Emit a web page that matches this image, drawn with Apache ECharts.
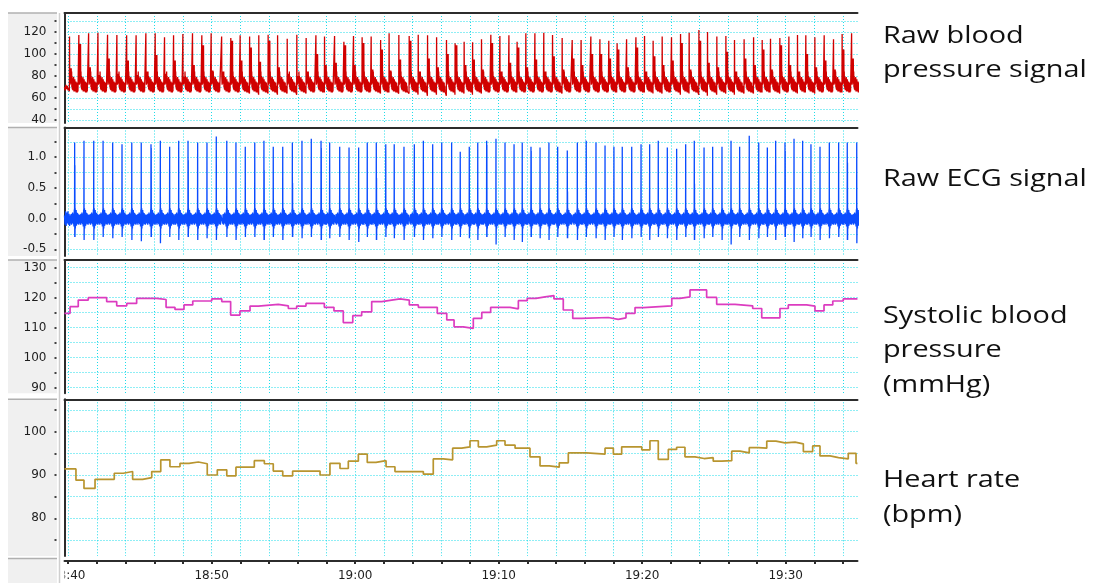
<!DOCTYPE html>
<html><head><meta charset="utf-8">
<script src="https://cdn.jsdelivr.net/npm/echarts@6/dist/echarts.min.js"></script>
<style>html,body{margin:0;padding:0;background:#fff}#c{width:1095px;height:583px}</style>
</head><body><div id="c"></div>
<script>
// ---------- DATA (minutes after 18:40) ----------
const beatMin = [0.45,1.10,1.78,2.43,3.10,3.75,4.43,5.09,5.77,6.42,7.07,7.70,8.35,9.02,9.67,10.32,11.05,11.69,12.34,13.00,13.64,14.29,14.95,15.62,16.29,16.94,17.62,
18.22,18.92,19.57,20.24,20.84,21.47,22.13,22.72,23.40,24.12,24.75,25.40,26.03,26.72,27.32,27.95,28.54,29.16,29.81,30.44,31.07,31.64,32.25,32.88,33.50,34.11,34.78,35.48,36.10,
36.78,37.41,38.03,38.61,39.27,39.92,40.52,41.12,41.75,42.40,43.03,43.63,44.31,44.91,45.56,46.19,46.79,47.46,48.12,48.72,49.30,49.95,50.58,51.18,51.76,52.39,53.04,53.69,54.29,54.95];
const ecgPeak = [1.24,1.27,1.27,1.27,1.24,1.21,1.24,1.24,1.21,1.27,1.17,1.27,1.27,1.24,1.24,1.34,1.27,1.24,1.17,1.24,1.27,1.17,1.17,1.24,1.27,1.30,1.27,
1.24,1.17,1.16,1.16,1.24,1.24,1.21,1.21,1.17,1.21,1.27,1.21,1.24,1.24,1.09,1.17,1.24,1.27,1.30,1.24,1.21,1.24,1.17,1.16,1.24,1.17,1.11,1.24,1.27,
1.24,1.19,1.17,1.17,1.17,1.21,1.21,1.27,1.16,1.14,1.21,1.27,1.16,1.17,1.17,1.27,1.17,1.35,1.24,1.16,1.27,1.24,1.30,1.27,1.21,1.17,1.24,1.24,1.24,1.24];
const ecgDip = [-0.30,-0.35,-0.35,-0.30,-0.32,-0.30,-0.35,-0.37,-0.30,-0.40,-0.30,-0.35,-0.30,-0.35,-0.32,-0.35,-0.30,-0.35,-0.30,-0.30,-0.35,-0.30,-0.35,-0.30,-0.32,-0.30,-0.35,
-0.32,-0.30,-0.35,-0.38,-0.30,-0.35,-0.30,-0.32,-0.35,-0.30,-0.35,-0.32,-0.30,-0.35,-0.30,-0.32,-0.35,-0.30,-0.42,-0.30,-0.35,-0.38,-0.30,-0.32,-0.35,-0.30,-0.32,-0.35,-0.30,
-0.32,-0.35,-0.30,-0.35,-0.32,-0.30,-0.35,-0.30,-0.32,-0.35,-0.30,-0.35,-0.32,-0.30,-0.35,-0.42,-0.30,-0.35,-0.32,-0.30,-0.35,-0.30,-0.38,-0.32,-0.30,-0.35,-0.32,-0.30,-0.35,-0.40];
// extra (secondary) ECG spikes: [beat index, height]
const ecgExtra = [[0,0.87],[8,1.15],[12,0.95],[20,0.79],[23,0.58],[26,1.15],[32,0.66],[44,1.2],[49,1.1],[53,0.44],[67,0.57],[77,1.1],[84,0.91]];
// ECG beat shape: [minutes from R peak, value | 'P' peak | 'D' dip | 'X' extra]
const ecgShape = [[-0.32,0.05],[-0.29,-0.08],[-0.26,0.07],[-0.23,-0.1],[-0.2,0.08],[-0.17,-0.07],[-0.14,0.1],[-0.11,-0.09],[-0.08,0.08],[-0.05,-0.13],[-0.025,0.15],[-0.008,0.02],
[0,'P'],[0.008,'D'],[0.016,'X'],[0.024,'D2'],[0.035,0.17],[0.05,-0.16],[0.065,0.13],[0.085,-0.12],[0.105,0.14],[0.125,-0.11],[0.145,0.1],[0.17,-0.08],[0.2,0.09],[0.23,-0.09],[0.26,0.07],[0.29,-0.1],[0.32,0.06]];
const ecgLead = [[-0.26,0.05],[-0.22,-0.1],[-0.18,0.12],[-0.14,-0.12],[-0.1,0.1],[-0.06,-0.08],[-0.02,0.12],[0.02,-0.1],[0.06,0.08],[0.1,-0.12]];

const bpLag = 0.37; // BP upstroke precedes the drawn R spike by this many minutes
const bpPeak = [115.8,117.3,118.8,119.4,117.6,117.3,117,117,118.8,118.8,115.2,117,118.2,118.8,117,118.8,115.8,114.5,117,115.8,117,117.6,117,113.9,117.6,114.5,117,115.8,
116.4,111.2,116.4,115.2,115.8,112.7,118.8,117.3,116.4,117.6,117,115.2,112.7,109.7,111.2,110.6,113.3,117.6,116.4,117,111.2,118.8,118.8,119.4,117.3,114.5,112.7,112.7,115.8,
113.3,112.1,109.7,113.3,115.2,116.4,112.1,115.8,115.2,118.2,119.4,121.8,120,115.8,116.4,112.7,113.3,115.2,112.7,113.9,114.5,115.8,117.3,117,115.2,117,113.3,118.2,118.8];
const bpSecond = [87,109,88,81,96,82,94,81,84,99,82,94,79,90,108,85,84,112,94,106,93,112,88,82,80,84,100,90,
92,108,90,110,86,104,85,95,112,84,96,88,100,108,90,95,86,110,84,92,106,88,95,84,98,86,96,90,100,
100,96,104,88,106,84,98,90,94,110,86,112,92,88,102,84,96,90,104,86,108,90,84,100,88,94,86,104,96];
const bpTrough = [66,67,66,65,66,67,65,66,66,65,66,65,66,67,65,66,65,66,65,
64,63,64,63,64,63,64,65,65,
65,66,65,66,65,64,65,64,64,
63,62,63,62,63,64,63,64,65,
65,66,65,66,65,66,65,64,65,65,
66,65,66,65,66,65,65,64,64,65,
63,64,63,62,63,64,63,64,64,65,
65,64,65,64,65,64,65,66,65,66];
// BP beat shape: [minutes from upstroke, value | 'T' trough | 'P' peak | 'S' secondary]
const bpShape = [[0,'T'],[0.012,'P'],[0.025,80],[0.045,72],[0.1,'S'],[0.115,74],[0.13,'S'],[0.145,73],[0.16,84],[0.175,70],[0.19,80],[0.205,68],[0.22,78],[0.24,67],[0.26,76],[0.28,69],
[0.3,79],[0.32,66],[0.34,75],[0.36,68],[0.38,77],[0.4,66],[0.42,73],[0.44,67],[0.46,75],[0.48,65],[0.5,72],[0.52,66],[0.54,74],[0.56,65],[0.58,71],[0.6,66]];
const bpLead = [[-0.26,70],[-0.21,67],[-0.16,72],[-0.11,68],[-0.06,71],[-0.01,67],[0.04,69]];

const sbpTime = [-0.26,0.13,0.70,1.40,2.68,3.38,4.08,4.77,6.17,6.82,7.44,8.07,8.68,10.00,10.70,11.32,11.97,12.67,13.25,14.64,15.34,15.92,16.57,17.85,18.52,19.17,19.83,20.45,21.15,21.85,22.54,23.12,23.77,24.40,25.72,26.38,26.89,27.53,28.23,28.82,29.44,30.79,31.37,31.99,32.60,33.23,33.85,34.50,35.16,35.78,37.64,38.33,38.87,39.50,40.08,42.06,42.63,43.33,44.49,45.19,46.47,47.70,48.33,49.60,50.18,51.46,52.04,52.67,53.28,54.01,55.0];
const sbpValue = [114.8,117,119.2,120,118.7,117.3,118.1,119.8,119.4,116.8,116.1,117.6,118.9,119.6,118.7,114.2,115.6,117.2,117.8,117.3,116.4,117.2,118.1,116.8,115.6,111.7,114,115.3,118.7,119.2,119.6,119.2,117.6,116.8,114.8,112.6,110.3,109.8,113.1,115.1,116.8,116.3,119,119.8,120.3,120.7,119.6,115.9,113.1,113.4,112.8,113.3,114.8,116.7,117.3,119.8,120.3,122.6,120.1,117.8,117.3,116.4,113.3,116.4,117.6,117.2,115.6,117.6,118.9,119.6,119.6];

const hrTime = [-0.26,0.54,1.10,1.87,3.21,3.84,4.49,5.19,5.82,6.45,7.09,7.79,8.42,9.07,9.69,10.39,11.05,11.69,12.97,13.67,14.29,14.95,15.64,17.55,18.24,18.94,19.52,20.22,20.84,21.45,22.15,22.77,24.75,25.44,26.14,26.79,27.42,28.00,28.58,29.16,29.86,30.44,31.14,32.18,32.88,33.53,34.22,34.85,36.13,37.41,37.99,38.57,39.97,40.54,41.12,41.82,42.40,42.98,43.68,44.31,44.95,45.54,46.24,46.82,47.46,48.09,48.68,49.32,49.95,50.65,51.23,51.88,52.39,53.09,53.68,54.36,54.90,55.0];
const hrValue = [91.4,88.8,86.9,89,90.4,90.8,89,89.4,90.8,93.5,91.9,92.7,93,92.6,90,91.2,89.8,91.8,93.3,92.6,90.9,89.8,90.9,90.0,92.7,91.5,93.2,94.8,92.9,93.3,91.9,90.8,90.2,93.7,93.5,96.2,96.5,97.9,96.5,96.9,97.9,96.9,96.2,94.2,92.1,91.8,92.8,95.1,94.8,96.2,94.8,96.5,95.8,97.9,93.6,95.9,96.4,94.2,93.8,94.0,93.2,93.3,95.5,95.1,96.3,96.2,97.8,97.4,97.6,97.2,95.4,96.7,94.4,94.0,93.7,95,92.7,92.7];

const sideLabels = [['Raw blood',36],['pressure signal',70],['Raw ECG signal',179],['Systolic blood',316],['pressure',350],['(mmHg)',385],['Heart rate',480],['(bpm)',515]];
const startHour = 18, startMinute = 40;

// ---------- LAYOUT ----------
const X0 = 68.2, PXMIN = 14.35, FRAME_L = 64.5, FRAME_R = 857.5;
const GRID_SPAN = 54; // vertical grid lines 0..54 min every 2
const panels = [
  {top:13,    bottom:123,   gMin:40,   gMax:130,  gTop:21,    gBot:120,   step:10,   lab:20,  dec:0},
  {top:127.5, bottom:256,   gMin:-0.5, gMax:1.25, gTop:141.9, gBot:249.3, step:0.25, lab:0.5, dec:1},
  {top:260,   bottom:393.3, gMin:90,   gMax:130,  gTop:267.7, gBot:387.7, step:5,    lab:10,  dec:0},
  {top:399.3, bottom:556,   gMin:75,   gMax:105,  gTop:410,   gBot:540,   step:5,    lab:10,  dec:0}
];
const xMin = (FRAME_L - X0) / PXMIN, xMax = (FRAME_R - X0) / PXMIN;
const GRIDC = '#1edcea', AX = '#2c2c2c';
const gridLine = {show: true, lineStyle: {color: GRIDC, width: 1, type: [1, 2]}};

// ---------- BUILD WAVEFORMS ----------
const extraMap = {}; ecgExtra.forEach(([i, v]) => extraMap[i] = v);
function buildEcg() {
  const pts = ecgLead.slice();
  const n = beatMin.length;
  for (let i = 0; i < n; i++) {
    const t = beatMin[i];
    const lo = i > 0 ? (beatMin[i - 1] + t) / 2 : -1;
    const hi = i < n - 1 ? (t + beatMin[i + 1]) / 2 : 99;
    const ex = extraMap[i];
    for (const [off, v] of ecgShape) {
      const tt = t + off;
      if (tt <= lo || tt > hi) continue;
      let val = v;
      if (v === 'P') val = ecgPeak[i];
      else if (v === 'D') val = ecgDip[i];
      else if (v === 'X') { if (ex === undefined) continue; val = ex; }
      else if (v === 'D2') { if (ex === undefined) continue; val = ecgDip[i]; }
      pts.push([tt, val]);
    }
  }
  return pts;
}
function buildBp() {
  const pts = bpLead.slice();
  const n = beatMin.length;
  for (let i = 0; i < n; i++) {
    const s = beatMin[i] - bpLag;
    const next = i < n - 1 ? beatMin[i + 1] - bpLag : 99;
    for (const [off, v] of bpShape) {
      const tt = s + off;
      if (tt >= next) continue;
      let val = v;
      if (v === 'T') val = bpTrough[i];
      else if (v === 'P') val = bpPeak[i];
      else if (v === 'S') val = bpSecond[i];
      pts.push([tt, val]);
    }
  }
  return pts;
}
const zip = (a, b) => a.map((t, i) => [t, b[i]]);

// ---------- OPTION ----------
const grid = [], xAxis = [], yAxis = [];
const hidden = {show: false};
panels.forEach((p, k) => {
  const k2 = (p.gMax - p.gMin) / (p.gBot - p.gTop);
  const yMin = p.gMin - (p.bottom - p.gBot) * k2;
  const yMax = p.gMax + (p.gTop - p.top) * k2;
  const h = p.bottom - p.top;
  // data grid (frame)
  grid.push({left: FRAME_L, width: FRAME_R - FRAME_L, top: p.top, height: h});
  xAxis.push({type: 'value', gridIndex: 3 * k, min: xMin, max: xMax, position: 'top',
    axisLine: {show: true, onZero: false, lineStyle: {color: AX, width: 2}},
    axisTick: hidden, axisLabel: hidden, splitLine: hidden});
  yAxis.push({type: 'value', gridIndex: 3 * k, min: yMin, max: yMax, position: 'left',
    axisLine: {show: true, onZero: false, lineStyle: {color: AX, width: 2}},
    axisTick: hidden, axisLabel: hidden, splitLine: hidden});
  // vertical grid lines
  grid.push({left: X0, width: GRID_SPAN * PXMIN, top: p.top, height: h});
  xAxis.push({type: 'value', gridIndex: 3 * k + 1, min: 0, max: GRID_SPAN, interval: 2,
    axisLine: {show: false, onZero: false}, axisTick: hidden, axisLabel: hidden, splitLine: gridLine});
  yAxis.push({type: 'value', gridIndex: 3 * k + 1, min: 0, max: 1, show: false, axisLine: {onZero: false}});
  // horizontal grid lines + y labels
  grid.push({left: FRAME_L, width: FRAME_R - FRAME_L, top: p.gTop, height: p.gBot - p.gTop});
  xAxis.push({type: 'value', gridIndex: 3 * k + 2, min: 0, max: 1, show: false, axisLine: {onZero: false}});
  yAxis.push({type: 'value', gridIndex: 3 * k + 2, min: p.gMin, max: p.gMax, interval: p.step, position: 'left',
    axisLine: {show: false, onZero: false},
    axisTick: {show: true, length: 10, lineStyle: {color: '#444', width: 2, type: [2, 8], dashOffset: 2}},
    axisLabel: {margin: 18, color: '#1e1e1e', fontFamily: 'DejaVu Sans', fontSize: 12,
      formatter: v => Math.abs(v / p.lab - Math.round(v / p.lab)) < 1e-6 ? v.toFixed(p.dec) : ''},
    splitLine: gridLine});
});
// bottom time axis: full line + ticks/labels
grid.push({left: FRAME_L, width: FRAME_R - FRAME_L, top: 551, height: 10});
xAxis.push({type: 'value', gridIndex: 12, min: xMin, max: xMax,
  axisLine: {show: true, onZero: false, lineStyle: {color: AX, width: 2}},
  axisTick: hidden, axisLabel: hidden, splitLine: hidden});
yAxis.push({type: 'value', gridIndex: 12, min: 0, max: 1, show: false, axisLine: {onZero: false}});
grid.push({left: X0, width: GRID_SPAN * PXMIN, top: 551, height: 10});
xAxis.push({type: 'value', gridIndex: 13, min: 0, max: GRID_SPAN, interval: 2,
  axisLine: {show: false, onZero: false},
  axisTick: {show: true, length: 3, lineStyle: {color: AX, width: 2}},
  axisLabel: {margin: 9, color: '#1e1e1e', fontFamily: 'DejaVu Sans', fontSize: 12,
    formatter: v => {
      const m = Math.round(v);
      if (m % 10 !== 0) return '';
      const tot = startHour * 60 + startMinute + m;
      return Math.floor(tot / 60) + ':' + String(tot % 60).padStart(2, '0');
    }},
  splitLine: hidden});
yAxis.push({type: 'value', gridIndex: 13, min: 0, max: 1, show: false, axisLine: {onZero: false}});

const lineBase = {type: 'line', showSymbol: false, symbol: 'none', silent: true, animation: false, z: 3};
const series = [
  Object.assign({}, lineBase, {name: 'Raw BP', xAxisIndex: 0, yAxisIndex: 0, data: buildBp(), lineStyle: {color: '#d00000', width: 1.3}}),
  Object.assign({}, lineBase, {name: 'Raw ECG', xAxisIndex: 3, yAxisIndex: 3, data: buildEcg(), lineStyle: {color: '#0a4cff', width: 1.3}}),
  Object.assign({}, lineBase, {name: 'SBP', xAxisIndex: 6, yAxisIndex: 6, step: 'end', data: zip(sbpTime, sbpValue), lineStyle: {color: '#dc3cc0', width: 1.7}}),
  Object.assign({}, lineBase, {name: 'HR', xAxisIndex: 9, yAxisIndex: 9, step: 'end', data: zip(hrTime, hrValue), lineStyle: {color: '#b8952f', width: 1.7}})
];

// decorations
const graphic = [];
panels.forEach(p => {
  graphic.push({type: 'rect', z: -10, shape: {x: 8, y: p.top, width: 49, height: p.bottom - p.top}, style: {fill: '#f0f0f0'}});
  graphic.push({type: 'line', z: -9, shape: {x1: 8, y1: p.top, x2: 57, y2: p.top}, style: {stroke: '#b0b0b0', lineWidth: 1.5}});
});
graphic.push({type: 'rect', z: 100, shape: {x: 0, y: 563, width: 64.5, height: 20}, style: {fill: '#ffffff'}});
graphic.push({type: 'rect', z: 101, shape: {x: 8, y: 558.5, width: 49, height: 25}, style: {fill: '#f0f0f0'}});
graphic.push({type: 'line', z: 101, shape: {x1: 8, y1: 558.5, x2: 57, y2: 558.5}, style: {stroke: '#b0b0b0', lineWidth: 1.5}});
graphic.push({type: 'line', z: 101, shape: {x1: 59.5, y1: 13, x2: 59.5, y2: 583}, style: {stroke: '#cfcfcf', lineWidth: 1.5}});
sideLabels.forEach(([t, y]) => {
  graphic.push({type: 'text', z: 10, x: 883, y: y, scaleX: 1.2,
    style: {text: t, fill: '#111', font: '24px "Open Sans"', align: 'left', verticalAlign: 'middle', textVerticalAlign: 'middle'}});
});

const chart = echarts.init(document.getElementById('c'), null, {renderer: 'canvas'});
chart.setOption({animation: false, backgroundColor: '#ffffff', grid, xAxis, yAxis, series, graphic});
</script>
</body></html>
